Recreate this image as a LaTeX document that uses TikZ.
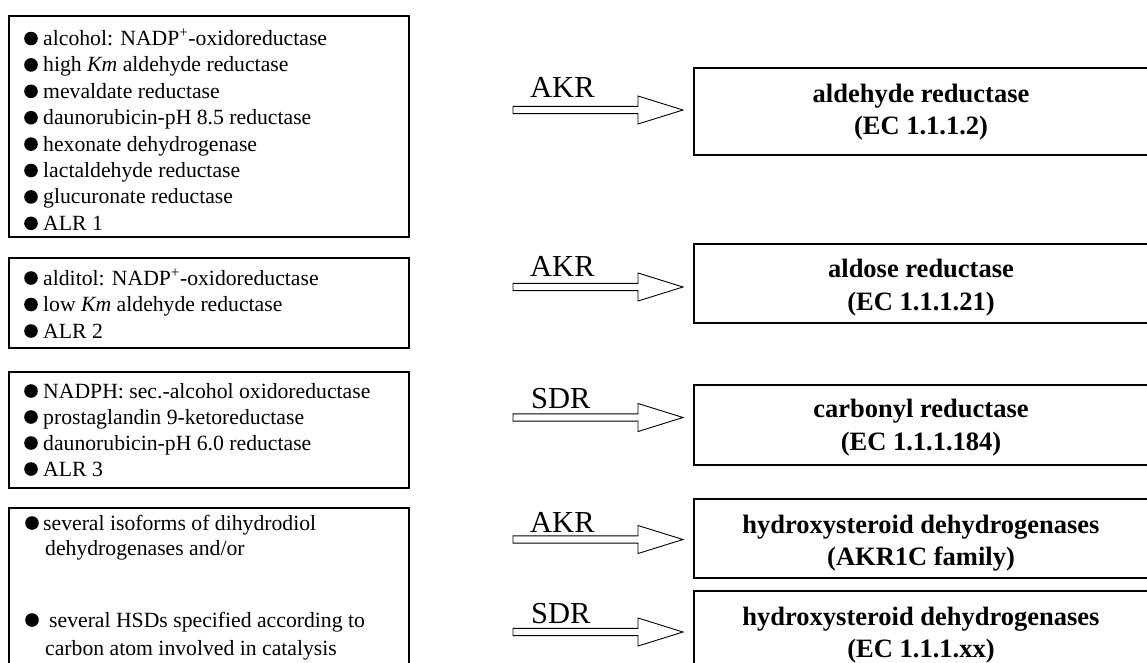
\documentclass[tikz,border=0pt]{standalone}
\usepackage{fontspec}
\setmainfont{Liberation Serif}
\usetikzlibrary{calc}

\tikzset{
  listbox/.style={draw=black, line width=1.3pt, inner sep=0pt, outer sep=0pt,
                  anchor=north west, minimum width=400pt},
  namebox/.style={draw=black, line width=1.3pt, inner sep=0pt, outer sep=0pt,
                  anchor=north west, minimum width=454pt},
  itemtext/.style={anchor=base west, inner sep=0pt, font=\fontsize{21.7}{26}\selectfont},
  enzyme/.style={anchor=base, inner sep=0pt, font=\fontsize{26.5}{32}\selectfont\bfseries},
  famlabel/.style={anchor=base west, inner sep=0pt, font=\fontsize{30.5}{36}\selectfont},
  fatarrow/.style={draw=black, line width=0.9pt, fill=white, line join=miter},
  bulletdot/.style={fill=black},
}

% bullet point at a given x centre and text baseline
\newcommand\bulletat[2]{\fill[bulletdot] (#1,#2-7) circle[radius=6.8pt];}
% hollow block arrow from #1 to the tip #2
\newcommand\blockarrow[2]{%
  \draw[fatarrow] let \p1=(#1), \p2=(#2) in
    (\x1,\y1+3.6pt) -- (\x2-45pt,\y1+3.6pt) -- (\x2-45pt,\y1+14pt) -- (\x2,\y1)
    -- (\x2-45pt,\y1-14pt) -- (\x2-45pt,\y1-3.6pt) -- (\x1,\y1-3.6pt) -- cycle;}

\begin{document}
\begin{tikzpicture}[x=1pt,y=-1pt]
\useasboundingbox (0,0) rectangle (1147,662);
\fill[white] (0,0) rectangle (1147,662);

% ---------- former names (left column) ----------
\node[listbox, minimum height=221pt] (l1) at (9,16) {};
\node[listbox, minimum height=90pt]  (l2) at (9,258) {};
\node[listbox, minimum height=116pt] (l3) at (9,372) {};
\node[listbox, minimum height=180pt] (l4) at (9,508) {};

\foreach \yy/\txt [count=\i] in {
    45.5/{alcohol: NADP\textsuperscript{+}-oxidoreductase},
    71.9/{high \textit{Km} aldehyde reductase},
    98.3/{mevaldate reductase},
    124.7/{daunorubicin-pH 8.5 reductase},
    151.1/{hexonate dehydrogenase},
    177.5/{lactaldehyde reductase},
    203.9/{glucuronate reductase},
    230.3/{ALR 1}} {
  \bulletat{31}{\yy}
  \node[itemtext] (l1t\i) at (43,\yy) {\txt};
}

\foreach \yy/\txt [count=\i] in {
    285/{alditol: NADP\textsuperscript{+}-oxidoreductase},
    311.5/{low \textit{Km} aldehyde reductase},
    338/{ALR 2}} {
  \bulletat{31}{\yy}
  \node[itemtext] (l2t\i) at (43,\yy) {\txt};
}

\foreach \yy/\txt [count=\i] in {
    398/{NADPH: sec.-alcohol oxidoreductase},
    424/{prostaglandin 9-ketoreductase},
    450/{daunorubicin-pH 6.0 reductase},
    476/{ALR 3}} {
  \bulletat{31}{\yy}
  \node[itemtext] (l3t\i) at (43,\yy) {\txt};
}

\bulletat{32}{530}
\node[itemtext] (l4t1) at (43,530) {several isoforms of dihydrodiol};
\node[itemtext] (l4t2) at (45,555) {dehydrogenases and/or};
\bulletat{32}{627}
\node[itemtext] (l4t3) at (49,627) {several HSDs specified according to};
\node[itemtext] (l4t4) at (45,655) {carbon atom involved in catalysis};

% ---------- enzyme names (right column) ----------
\node[namebox, minimum height=87pt]  (r1) at (694,68) {};
\node[namebox, minimum height=79pt]  (r2) at (694,244) {};
\node[namebox, minimum height=80pt]  (r3) at (694,385) {};
\node[namebox, minimum height=79pt]  (r4) at (694,499) {};
\node[namebox, minimum height=100pt] (r5) at (694,591) {};

\node[enzyme] (r1a) at ($(r1.north)+(0,34)$) {aldehyde reductase};
\node[enzyme] (r1b) at ($(r1.north)+(0,66)$) {(EC 1.1.1.2)};
\node[enzyme] (r2a) at ($(r2.north)+(0,33)$) {aldose reductase};
\node[enzyme] (r2b) at ($(r2.north)+(0,66)$) {(EC 1.1.1.21)};
\node[enzyme] (r3a) at ($(r3.north)+(0,32)$) {carbonyl reductase};
\node[enzyme] (r3b) at ($(r3.north)+(0,65)$) {(EC 1.1.1.184)};
\node[enzyme] (r4a) at ($(r4.north)+(0,34)$) {hydroxysteroid dehydrogenases};
\node[enzyme] (r4b) at ($(r4.north)+(0,66)$) {(AKR1C family)};
\node[enzyme] (r5a) at ($(r5.north)+(0,34)$) {hydroxysteroid dehydrogenases};
\node[enzyme] (r5b) at ($(r5.north)+(0,66)$) {(EC 1.1.1.xx)};

% ---------- superfamily arrows ----------
\coordinate (s1) at (513,110);
\coordinate (s2) at (513,287);
\coordinate (s3) at (513,417.5);
\coordinate (s4) at (513,539.5);
\coordinate (s5) at (513,632);
\foreach \i in {1,...,5} {
  \coordinate (t\i) at ($(r\i.west |- s\i)+(-11,0)$);
  \blockarrow{s\i}{t\i}
}

\node[famlabel] (k1) at (530,97)  {AKR};
\node[famlabel] (k2) at (530,276) {AKR};
\node[famlabel] (k3) at (531,408) {SDR};
\node[famlabel] (k4) at (530,532) {AKR};
\node[famlabel] (k5) at (531,623) {SDR};
\end{tikzpicture}
\end{document}
